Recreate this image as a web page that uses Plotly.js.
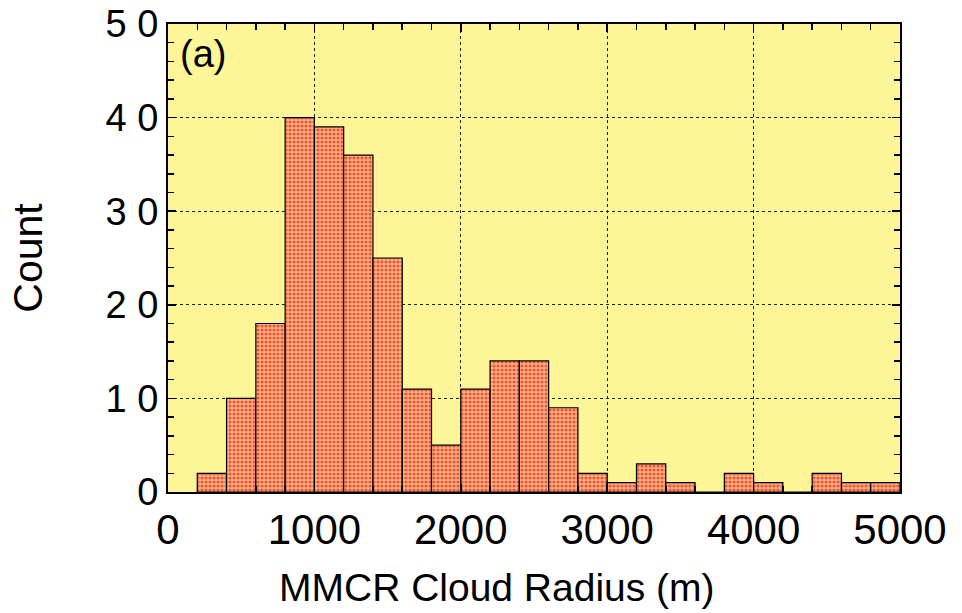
<!DOCTYPE html>
<html>
<head>
<meta charset="utf-8">
<script src="https://cdn.plot.ly/plotly-3.0.1.min.js"></script>
<style>html,body{margin:0;padding:0;background:#fff;}#chart{width:962px;height:613px;}</style>
</head>
<body>
<div id="chart"></div>
<script>
var binCenters = [300,500,700,900,1100,1300,1500,1700,1900,2100,2300,2500,2700,2900,3100,3300,3500,3700,3900,4100,4300,4500,4700,4900];
var counts = [2,10,18,40,39,36,25,11,5,11,14,14,9,2,1,3,1,0,2,1,0,2,1,1];
var xTickVals = [0,1000,2000,3000,4000,5000];
var xTickText = ["0","1000","2000","3000","4000","5000"];
var yTickVals = [0,10,20,30,40,50];
var yTickText = ["0","1 0","2 0","3 0","4 0","5 0"];

var trace = {
  type: 'bar',
  x: binCenters,
  y: counts,
  width: 200,
  marker: {
    color: '#f9b08a',
    line: {color: '#000', width: 1.2},
    pattern: {shape: '.', fgcolor: '#ec5630', bgcolor: '#fab48c', size: 4, solidity: 0.5}
  },
  hoverinfo: 'skip'
};

var layout = {
  width: 962, height: 613,
  margin: {l: 168, r: 62, t: 24, b: 121},
  paper_bgcolor: '#ffffff',
  plot_bgcolor: '#fdf597',
  showlegend: false,
  bargap: 0,
  font: {family: 'Liberation Sans, Arial, sans-serif', color: '#000'},
  xaxis: {
    range: [0, 5000],
    tickvals: xTickVals, ticktext: xTickText,
    tickfont: {size: 42},
    ticks: 'inside', ticklen: 8, tickcolor: '#000', tickwidth: 1.5,
    showline: true, linecolor: '#000', linewidth: 2, mirror: 'allticks',
    showgrid: true, gridcolor: '#222', griddash: 'dot', gridwidth: 1,
    zeroline: false,
    minor: {dtick: 200, ticks: 'inside', ticklen: 6, tickcolor: '#000', showgrid: false}
  },
  yaxis: {
    range: [0, 50],
    tickvals: yTickVals, ticktext: yTickText,
    tickfont: {size: 38},
    ticks: 'inside', ticklen: 8, tickcolor: '#000', tickwidth: 1.5,
    showline: true, linecolor: '#000', linewidth: 2, mirror: 'allticks',
    showgrid: true, gridcolor: '#222', griddash: 'dot', gridwidth: 1,
    zeroline: false,
    minor: {dtick: 2, ticks: 'inside', ticklen: 6, tickcolor: '#000', showgrid: false},
    title: {text: 'Count', font: {size: 41}, standoff: 50}
  },
  annotations: [{
    text: '(a)', xref: 'paper', yref: 'paper', x: 0.014, y: 0.985,
    xanchor: 'left', yanchor: 'top', showarrow: false, font: {size: 38}
  }, {
    text: 'MMCR Cloud Radius (m)', xref: 'paper', yref: 'paper', x: 0.449, y: -0.204,
    xanchor: 'center', yanchor: 'middle', showarrow: false, font: {size: 39}
  }]
};

Plotly.newPlot('chart', [trace], layout, {displayModeBar: false, staticPlot: true});
</script>
</body>
</html>
